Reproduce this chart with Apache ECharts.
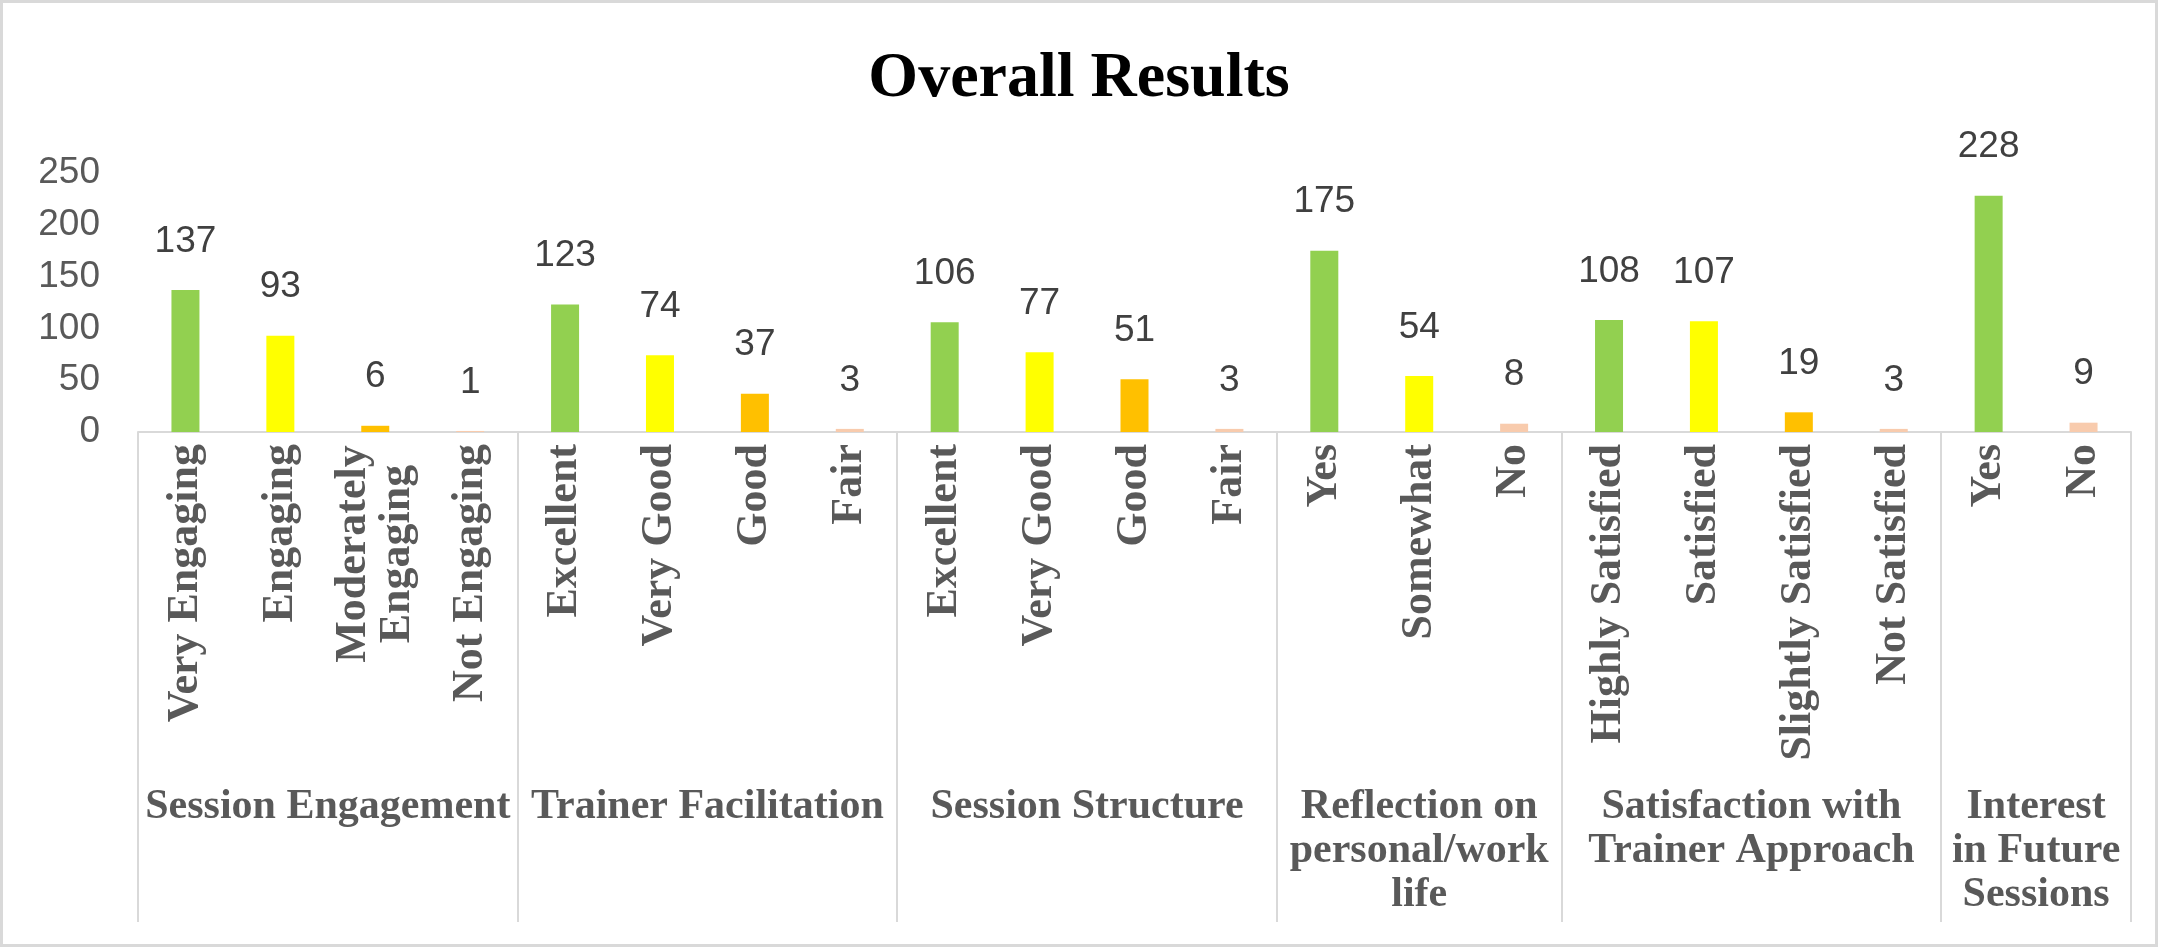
<!DOCTYPE html>
<html>
<head>
<meta charset="utf-8">
<script src="https://cdn.jsdelivr.net/npm/echarts@6/dist/echarts.min.js"></script>
<style>
  html, body { margin: 0; padding: 0; background: #fff; }
  #chart { width: 2158px; height: 947px; box-sizing: border-box; border: 3px solid #d9d9d9; }
</style>
</head>
<body>
<div id="chart"></div>
<script>
// data
var groupNames = ['Session Engagement', 'Trainer Facilitation', 'Session Structure',
  'Reflection on\npersonal/work\nlife', 'Satisfaction with\nTrainer Approach', 'Interest\nin Future\nSessions'];
var groupSizes = [4, 4, 4, 3, 4, 2];
var categories = [
  'Very Engaging', 'Engaging', 'Moderately\nEngaging', 'Not Engaging',
  'Excellent', 'Very Good', 'Good', 'Fair',
  'Excellent', 'Very Good', 'Good', 'Fair',
  'Yes', 'Somewhat', 'No',
  'Highly Satisfied', 'Satisfied', 'Slightly Satisfied', 'Not Satisfied',
  'Yes', 'No'
];
var counts = [137, 93, 6, 1, 123, 74, 37, 3, 106, 77, 51, 3, 175, 54, 8, 108, 107, 19, 3, 228, 9];
var yTicks = [0, 50, 100, 150, 200, 250];

// colours, one per bar
var barColors = [
  '#92D050', '#FFFF00', '#FFC000', '#F8CBAD',
  '#92D050', '#FFFF00', '#FFC000', '#F8CBAD',
  '#92D050', '#FFFF00', '#FFC000', '#F8CBAD',
  '#92D050', '#FFFF00', '#F8CBAD',
  '#92D050', '#FFFF00', '#FFC000', '#F8CBAD',
  '#92D050', '#F8CBAD'
];

// group centres and boundaries on a 0..21 scale
var groupCentre = {};
var boundaries = {};
var start = 0;
groupSizes.forEach(function (n, i) {
  groupCentre[start + n / 2] = groupNames[i];
  boundaries[start] = true;
  start += n;
});

var serif = 'Liberation Serif';
var sans = 'Liberation Sans';

var myChart = echarts.init(document.getElementById('chart'));
var option = {
  backgroundColor: '#fff',
  animation: false,
  title: {
    text: 'Overall Results',
    left: 'center',
    top: 39,
    textStyle: { fontFamily: serif, fontWeight: 'bold', fontSize: 64, color: '#000' }
  },
  grid: { left: 135, right: 24, top: 170, bottom: 512 },
  xAxis: [{
    type: 'category',
    data: categories,
    boundaryGap: true,
    axisLine: { lineStyle: { color: '#d9d9d9', width: 2 } },
    axisTick: {
      show: true,
      length: 490,
      interval: function (idx) { return !!boundaries[idx]; },
      lineStyle: { color: '#d9d9d9', width: 2 }
    },
    axisLabel: {
      interval: 0,
      rotate: 90,
      margin: 12,
      fontFamily: serif,
      fontWeight: 'bold',
      fontSize: 44,
      color: '#595959',
      formatter: function (v) {
        if (v.indexOf('\n') < 0) return v;
        return v.split('\n').map(function (s) { return '{c|' + s + '}'; }).join('\n');
      },
      rich: {
        c: { width: 220, align: 'center', fontFamily: serif, fontWeight: 'bold', fontSize: 44, color: '#595959' }
      }
    }
  }, {
    type: 'value',
    position: 'bottom',
    offset: 343,
    min: 0,
    max: categories.length,
    interval: 0.5,
    axisLine: { show: false },
    axisTick: { show: false },
    splitLine: { show: false },
    axisLabel: {
      margin: 10,
      fontFamily: serif,
      fontWeight: 'bold',
      fontSize: 42,
      lineHeight: 44,
      color: '#595959',
      formatter: function (v) { return groupCentre[v] || ''; }
    }
  }],
  yAxis: {
    type: 'value',
    min: yTicks[0],
    max: yTicks[yTicks.length - 1],
    interval: yTicks[1] - yTicks[0],
    axisLine: { show: false },
    axisTick: { show: false },
    splitLine: { show: false },
    axisLabel: { margin: 38, fontFamily: sans, fontSize: 37, color: '#595959' }
  },
  series: [{
    type: 'bar',
    xAxisIndex: 0,
    barWidth: 28,
    data: counts.map(function (v, i) {
      return { value: v, itemStyle: { color: barColors[i] } };
    }),
    label: {
      show: true,
      position: 'top',
      distance: 30,
      fontFamily: sans,
      fontSize: 37,
      color: '#404040'
    }
  }]
};
myChart.setOption(option);
</script>
</body>
</html>
